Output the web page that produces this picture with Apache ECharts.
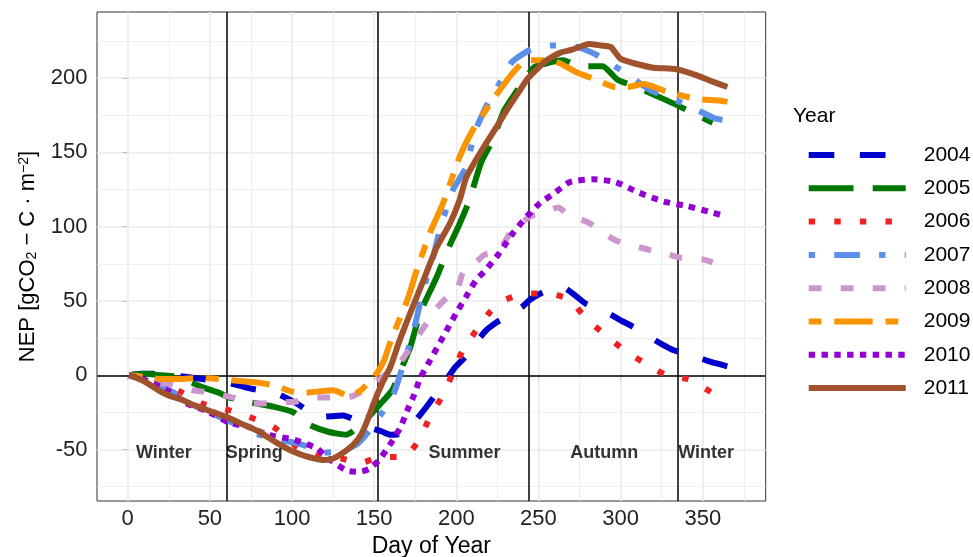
<!DOCTYPE html>
<html>
<head>
<meta charset="utf-8">
<script src="https://cdn.jsdelivr.net/npm/echarts@6/dist/echarts.min.js"></script>
<style>html,body{margin:0;padding:0;background:#fff;}#chart{width:973px;height:557px;}</style>
</head>
<body>
<div id="chart"></div>
<script>
// ---- data (day of year, cumulative NEP) ----
const years = ['2004','2005','2006','2007','2008','2009','2010','2011'];
const nep2004 = [[1,0],[8,1],[15,1],[25,0],[35,-1],[42,-2],[55,-4],[65,-6],[75,-9],[90,-12],[103,-19],[110,-24],[117,-28],[131,-27],[140,-31],[147,-35],[155,-38],[160,-40],[168,-39],[174,-32],[182,-21],[192,-6],[199,5],[205,12],[210,19],[218,30],[225,36],[230,39],[240,46],[245,51],[253,56],[265,59],[272,54],[279,48],[292,42],[300,37],[307,33],[319,25],[325,21],[332,17],[347,12],[355,9],[365,6]];
const nep2005 = [[1,0],[10,1],[20,0],[30,-1],[39,-5],[48,-9],[56,-12],[62,-15],[74,-18],[88,-21],[101,-25],[110,-33],[122,-38],[133,-40],[143,-32],[154,-19],[161,-10],[166,3],[172,19],[178,42],[188,66],[195,85],[202,102],[208,118],[215,143],[222,158],[229,178],[236,190],[247,207],[255,210],[265,212],[275,208],[289,208],[298,199],[310,194],[322,188],[334,182],[345,176],[356,170]];
const nep2006 = [[1,0],[10,-2],[20,-5],[32,-11],[45,-19],[60,-23],[74,-28],[89,-35],[105,-50],[115,-54],[130,-56],[142,-59],[153,-55],[168,-55],[177,-44],[184,-28],[192,-13],[198,2],[204,17],[212,30],[220,42],[228,50],[243,55],[255,55],[269,51],[279,38],[290,28],[302,17],[315,8],[328,0],[342,-3],[356,-12]];
const nep2007 = [[1,0],[10,-3],[20,-7],[30,-13],[40,-20],[50,-25],[60,-30],[70,-35],[80,-40],[90,-43],[100,-45],[110,-48],[120,-52],[130,-51],[140,-46],[148,-36],[155,-25],[162,-12],[168,8],[174,30],[180,58],[186,80],[190,98],[198,125],[206,140],[211,163],[220,185],[230,203],[234,211],[245,219],[258,222],[269,222],[283,217],[295,209],[306,201],[318,192],[334,185],[344,180],[357,173],[362,172]];
const nep2008 = [[1,0],[10,-2],[20,-5],[26,-6],[39,-10],[46,-11],[56,-13],[64,-15],[76,-19],[82,-19],[95,-18],[101,-18],[113,-15],[119,-15],[131,-15],[137,-14],[147,-8],[154,-2],[160,3],[165,8],[168,12],[174,22],[177,27],[185,40],[188,45],[194,52],[200,56],[204,69],[210,74],[217,81],[225,83],[233,96],[237,100],[245,107],[252,109],[262,113],[268,108],[280,103],[286,99],[295,92],[301,89],[312,86],[319,84],[330,81],[337,79],[350,78],[356,76]];
const nep2009 = [[1,0],[10,-1],[20,-2.5],[30,-2.5],[40,-2],[50,-2],[60,-3],[70,-4],[80,-5],[90,-7],[97,-10],[105,-12],[115,-11],[125,-10],[135,-14],[142,-10],[148,-3],[152,2],[156,10],[161,26],[170,50],[176,71],[184,96],[192,116],[202,147],[210,165],[222,185],[234,203],[243,212],[255,212],[263,210],[273,204],[285,199],[297,194],[304,194],[314,196],[328,191],[346,186],[360,185],[365,184]];
const nep2010 = [[1,0],[10,-3],[24,-10],[36,-19],[48,-24],[62,-32],[72,-34],[85,-40],[100,-43],[115,-49],[121,-55],[133,-64],[141,-65],[147,-63],[153,-57],[160,-46],[166,-35],[170,-24],[174,-14],[178,-2],[184,10],[192,26],[200,42],[206,53],[212,64],[218,71],[226,82],[234,95],[243,107],[251,116],[259,122],[269,130],[283,132],[297,130],[311,123],[326,117],[340,114],[354,110],[364,107]];
const nep2011 = [[1,0],[10,-4],[20,-11],[26,-14],[32,-16],[40,-20],[50,-24],[60,-28],[70,-33],[80,-38],[90,-45],[100,-51],[110,-55],[120,-57],[125,-56],[130,-53],[137,-47],[142,-40],[146,-30],[150,-18],[155,-5],[160,6],[165,22],[172,42],[180,64],[188,86],[196,102],[202,118],[206,133],[212,145],[218,156],[225,168],[231,179],[237,189],[243,199],[250,207],[255,212],[263,217],[270,219],[281,223],[288,222],[294,221],[300,213],[308,210],[320,207],[334,206],[346,202],[355,198],[365,194]];
const allSeries = [nep2004, nep2005, nep2006, nep2007, nep2008, nep2009, nep2010, nep2011];

// axes / ticks
const xTicks = [0,50,100,150,200,250,300,350];
const xMinor = [25,75,125,175,225,275,325,375];
const yTicks = [-50,0,50,100,150,200];
const yMinor = [-75,-25,25,75,125,175,225];
const seasonStarts = [60,152,244,335];
const seasonLabels = ['Winter','Spring','Summer','Autumn','Winter'];
const seasonLabelDays = [22,77,205,290,352];
const seasonLabelNep = -52;

// ---- styles ----
const colors = ['#0000CD','#007800','#EE2222','#5B8FE8','#CD96CD','#FA9400','#9400D3','#A0522D'];
const u = 6.4;
const dashes = [[4*u,4*u],[7*u,3*u],[1*u,3*u],[1*u,3*u,4*u,3*u],[2*u,3*u],[2*u,2*u,6*u,2*u],[1*u,1*u],'solid'];
const FONT = 'Liberation Sans, Arial, sans-serif';

const gridLine = (w) => ({color:'#EBEBEB', width:w, type:'solid'});
const gridMarks = []
  .concat(xTicks.map(v => ({xAxis:v, lineStyle:gridLine(1.6)})))
  .concat(xMinor.map(v => ({xAxis:v, lineStyle:gridLine(0.8)})))
  .concat(yTicks.map(v => ({yAxis:v, lineStyle:gridLine(1.6)})))
  .concat(yMinor.map(v => ({yAxis:v, lineStyle:gridLine(0.8)})));

const refMarks = seasonStarts.map(v => ({xAxis:v})).concat([{yAxis:0}]);

const series = [
  {
    name:'_grid', type:'line', data:[[1000,1000]], symbol:'none', z:1, silent:true,
    lineStyle:{opacity:0},
    markLine:{silent:true, symbol:['none','none'], label:{show:false}, animation:false, data:gridMarks}
  },
  {
    name:'_ref', type:'line', data:[[1000,1000]], symbol:'none', z:2, silent:true,
    lineStyle:{opacity:0},
    markLine:{silent:true, symbol:['none','none'], label:{show:false}, animation:false,
      lineStyle:{color:'#000', width:1.5, type:'solid'}, data:refMarks}
  }
];
years.forEach((y, i) => {
  series.push({
    name:y, type:'line', data:allSeries[i], symbol:'none', showSymbol:false,
    smooth:0.2, z:10+i, clip:true,
    lineStyle:{color:colors[i], width:6, type:dashes[i], cap:'butt', join:'round'},
    itemStyle:{color:colors[i]}
  });
});
series.push({
  name:'_labels', type:'scatter', symbolSize:0, z:30, silent:true,
  data: seasonLabelDays.map((d,i) => ({value:[d, seasonLabelNep], name:seasonLabels[i]})),
  label:{show:true, position:'inside', formatter:'{b}', fontFamily:FONT, fontWeight:'bold', fontSize:18, color:'#000'}
});

const chart = echarts.init(document.getElementById('chart'), null, {renderer:'canvas'});
chart.setOption({
  animation:false,
  backgroundColor:'#fff',
  textStyle:{fontFamily:FONT},
  title:{text:'Year', left:793, top:106, padding:0,
    textStyle:{fontFamily:FONT, fontSize:21, fontWeight:'normal', color:'#000'}},
  legend:{
    data:years, orient:'vertical', left:805.7, top:144.5, padding:0,
    itemWidth:97, itemHeight:21, itemGap:12.3, selectedMode:false,
    itemStyle:{opacity:0, borderWidth:0},
    lineStyle:{width:6},
    textStyle:{fontFamily:FONT, fontSize:21, color:'#000', padding:[0,0,0,13]}
  },
  grid:{left:97, right:207.3, top:12, bottom:56, show:true, borderColor:'#333', borderWidth:1,
    backgroundColor:'#fff', containLabel:false, outerBoundsMode:'none'},
  xAxis:{
    type:'value', min:-18.7, max:388.3,
    name:'Day of Year', nameLocation:'middle', nameGap:32,
    nameTextStyle:{fontFamily:FONT, fontSize:23, color:'#000'},
    axisLine:{show:false},
    axisTick:{show:true, length:5, lineStyle:{color:'#333', width:1}, customValues:xTicks},
    axisLabel:{show:true, margin:7, fontFamily:FONT, fontSize:22, color:'#222', customValues:xTicks},
    splitLine:{show:false}, minorSplitLine:{show:false}
  },
  yAxis:{
    type:'value', min:-84.6, max:244.5,
    name:'NEP [gCO{sub|2} − C · m{sup|−2}]', nameLocation:'middle', nameGap:58, nameRotate:90,
    nameTextStyle:{fontFamily:FONT, fontSize:22, color:'#000',
      rich:{
        sub:{fontFamily:FONT, fontSize:14, color:'#000', verticalAlign:'bottom'},
        sup:{fontFamily:FONT, fontSize:14, color:'#000', verticalAlign:'top'}
      }},
    axisLine:{show:false},
    axisTick:{show:true, length:5, lineStyle:{color:'#333', width:1}, customValues:yTicks},
    axisLabel:{show:true, margin:9.5, fontFamily:FONT, fontSize:22, color:'#222', customValues:yTicks},
    splitLine:{show:false}, minorSplitLine:{show:false}
  },
  series:series
});
</script>
</body>
</html>
